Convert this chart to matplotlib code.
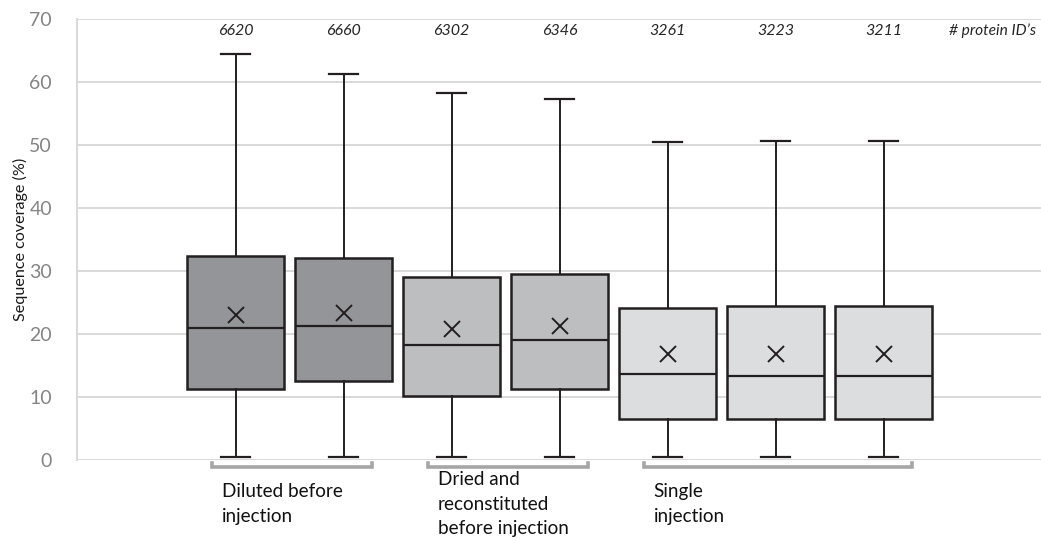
import matplotlib
matplotlib.use("Agg")
import matplotlib.pyplot as plt

plt.rcParams['font.family'] = ['Lato', 'DejaVu Sans']

# box statistics per sample (sequence coverage, %)
whisker_low = [0.4, 0.4, 0.4, 0.4, 0.4, 0.4, 0.4]
q1 = [11.2, 12.6, 10.2, 11.2, 6.5, 6.5, 6.5]
medians = [20.9, 21.2, 18.3, 19.0, 13.7, 13.3, 13.3]
means = [23.0, 23.3, 20.8, 21.2, 16.8, 16.8, 16.8]
q3 = [32.4, 32.0, 29.1, 29.5, 24.2, 24.5, 24.5]
whisker_high = [64.4, 61.2, 58.3, 57.3, 50.4, 50.7, 50.7]
protein_ids = ['6620', '6660', '6302', '6346', '3261', '3223', '3211']
group_of = [0, 0, 1, 1, 2, 2, 2]
group_labels = ['Diluted before\ninjection',
                'Dried and\nreconstituted\nbefore injection',
                'Single\ninjection']
group_colors = ['#939598', '#bdbec0', '#dcdddf']

positions = list(range(1, len(q1) + 1))

fig = plt.figure(figsize=(10.41, 5.41), dpi=100)
ax = fig.add_axes([0.074, 0.1497, 0.926, 0.8152])

stats = []
for i in range(len(q1)):
    stats.append({'whislo': whisker_low[i], 'q1': q1[i], 'med': medians[i],
                  'mean': means[i], 'q3': q3[i], 'whishi': whisker_high[i],
                  'fliers': []})

edge = '#231f20'
bp = ax.bxp(stats, positions=positions, widths=0.9, patch_artist=True,
            showmeans=True, showfliers=False,
            boxprops=dict(edgecolor=edge, linewidth=1.8),
            medianprops=dict(color=edge, linewidth=1.6),
            whiskerprops=dict(color=edge, linewidth=1.4),
            capprops=dict(color=edge, linewidth=1.6),
            meanprops=dict(marker='x', markeredgecolor=edge, markersize=11,
                           markeredgewidth=1.4),
            capwidths=0.27)
for patch, g in zip(bp['boxes'], group_of):
    patch.set_facecolor(group_colors[g])

ax.set_xlim(-0.468, 8.458)
ax.set_ylim(0, 70)
ax.set_yticks(range(0, 71, 10))
ax.set_xticks([])
ax.grid(axis='y', color='#d9d9d9', linewidth=1.4)
ax.set_axisbelow(True)
for side in ['top', 'right', 'bottom']:
    ax.spines[side].set_visible(False)
ax.spines['left'].set_color('#d9d9d9')
ax.spines['left'].set_linewidth(1.4)
ax.tick_params(axis='y', length=0, pad=18, labelsize=14, labelcolor='#858585')
ax.set_ylabel('Sequence coverage (%)', fontsize=11.6, color='#1a1a1a', labelpad=1)

# protein ID counts above each box
for p, n in zip(positions, protein_ids):
    ax.text(p, 68.1, n, ha='center', va='center', fontsize=11.5,
            style='italic', color='#262626')
ax.text(8.41, 68.1, "# protein ID\u2019s", ha='right', va='center',
        fontsize=11.2, style='italic', color='#262626')

# group brackets and labels below the axis
for g, label in enumerate(group_labels):
    members = [p for p, gg in zip(positions, group_of) if gg == g]
    x0 = members[0] - 0.22
    x1 = members[-1] + 0.26
    ax.plot([x0, x0, x1, x1], [-0.5, -1.05, -1.05, -0.5], color='#a6a6a6',
            linewidth=2.6, clip_on=False, solid_joinstyle='miter')
    ax.text(members[0] - 0.13, -7.0, label, ha='left', va='center',
            fontsize=13.6, color='#111111', linespacing=1.55)

fig.savefig('out.png', dpi=100)
